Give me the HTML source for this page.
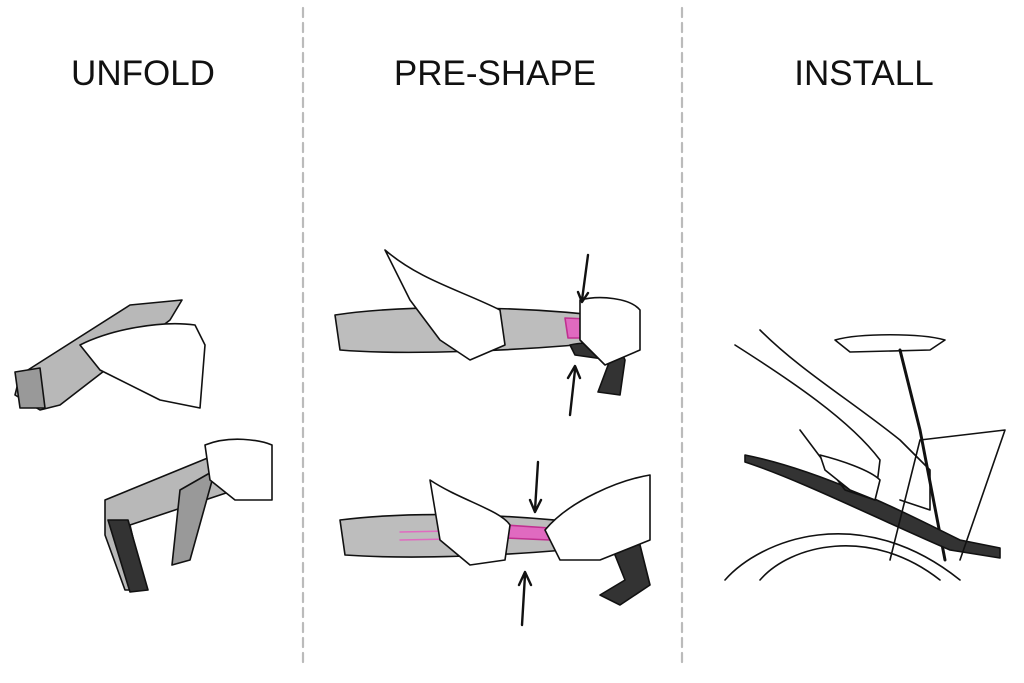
<!DOCTYPE html>
<html><head><meta charset="utf-8"><style>
html,body{margin:0;padding:0;background:#fff;}
body{width:1024px;height:683px;position:relative;overflow:hidden;font-family:"Liberation Sans",sans-serif;}
.t{position:absolute;top:54px;font-size:35px;letter-spacing:0px;color:#111;transform:translateX(-50%);white-space:nowrap;}
svg{position:absolute;left:0;top:0;}
</style></head><body>
<div class="t" style="left:143px">UNFOLD</div>
<div class="t" style="left:495px">PRE-SHAPE</div>
<div class="t" style="left:864px">INSTALL</div>
<svg width="1024" height="683" viewBox="0 0 1024 683" fill="none" stroke="#111" stroke-width="1.6" stroke-linejoin="round" stroke-linecap="round">
<line x1="303" y1="8" x2="303" y2="668" stroke="#bbb" stroke-width="2.2" stroke-dasharray="9,6"/>
<line x1="682" y1="8" x2="682" y2="668" stroke="#bbb" stroke-width="2.2" stroke-dasharray="9,6"/>
<!-- UNFOLD top -->
<path d="M20 375 L130 305 L182 300 L170 320 L60 405 L40 410 L15 395 Z" fill="#b8b8b8"/>
<path d="M15 372 L40 368 L45 408 L20 408 Z" fill="#999"/>
<path d="M80 345 C110 330 160 320 195 325 L205 345 L200 408 L160 400 L100 370 Z" fill="#fff"/>
<!-- UNFOLD bottom -->
<path d="M105 500 L215 455 L240 460 L235 490 L130 525 L145 590 L125 590 L105 535 Z" fill="#b8b8b8"/>
<path d="M108 520 L128 520 L148 590 L130 592 Z" fill="#333"/>
<path d="M180 490 L215 470 L190 560 L172 565 Z" fill="#999"/>
<path d="M205 445 C230 435 260 440 272 445 L272 500 L235 500 L210 480 Z" fill="#fff"/>
<!-- PRE-SHAPE top -->
<path d="M335 315 C400 305 520 305 620 318 L625 340 C520 352 400 355 340 350 Z" fill="#bdbdbd"/>
<path d="M565 318 L612 320 L612 338 L568 338 Z" fill="#e06ac0" stroke="#c03090"/>
<path d="M570 345 C590 340 620 345 625 360 L620 395 L598 392 L610 360 L575 355 Z" fill="#333"/>
<path d="M385 250 C420 280 460 290 500 310 L505 345 L470 360 L440 340 L410 300 Z" fill="#fff"/>
<path d="M580 300 C600 295 630 298 640 310 L640 350 L605 365 L580 340 Z" fill="#fff"/>
<path d="M588 255 L582 300 M578 292 L582 302 L588 293" stroke-width="2.4"/>
<path d="M570 415 L575 370 M568 378 L575 366 L580 378" stroke-width="2.4"/>
<!-- PRE-SHAPE bottom -->
<path d="M340 520 C420 510 520 515 600 525 L620 545 C520 555 420 560 345 555 Z" fill="#bdbdbd"/>
<path d="M505 525 L550 528 L550 540 L505 538 Z" fill="#e06ac0" stroke="#c03090"/>
<path d="M400 532 L500 530 M400 540 L500 538" stroke="#e06ac0" stroke-width="1.4"/>
<path d="M600 540 L640 545 L650 585 L620 605 L600 595 L625 580 L615 555 Z" fill="#333"/>
<path d="M430 480 C460 500 500 510 510 525 L505 560 L470 565 L440 540 Z" fill="#fff"/>
<path d="M545 530 C570 500 620 480 650 475 L650 540 L600 560 L560 560 Z" fill="#fff"/>
<path d="M538 462 L535 510 M530 500 L535 512 L541 500" stroke-width="2.4"/>
<path d="M522 625 L525 575 M519 585 L525 572 L531 585" stroke-width="2.4"/>
<!-- INSTALL -->
<path d="M835 340 C860 333 920 333 945 340 L930 350 L850 352 Z" fill="#fff"/>
<path d="M900 350 L920 430 L945 560" stroke-width="3"/>
<path d="M745 455 C820 470 900 510 960 540 L1000 548 L1000 558 L950 550 C880 520 800 480 745 462 Z" fill="#333"/>
<path d="M920 440 L1005 430 L960 560 M920 440 L890 560" />
<path d="M725 580 C760 540 860 500 960 580" />
<path d="M760 580 C790 545 870 525 940 580" />
<path d="M735 345 C790 380 850 420 880 460 L875 500 L845 490 L800 430 M760 330 C800 370 850 400 900 440 L930 470 L930 510 L900 500"/>
<path d="M820 455 C840 460 870 470 880 480 L875 500 L850 490 L825 470 Z" fill="#fff"/>
</svg>
</body></html>
